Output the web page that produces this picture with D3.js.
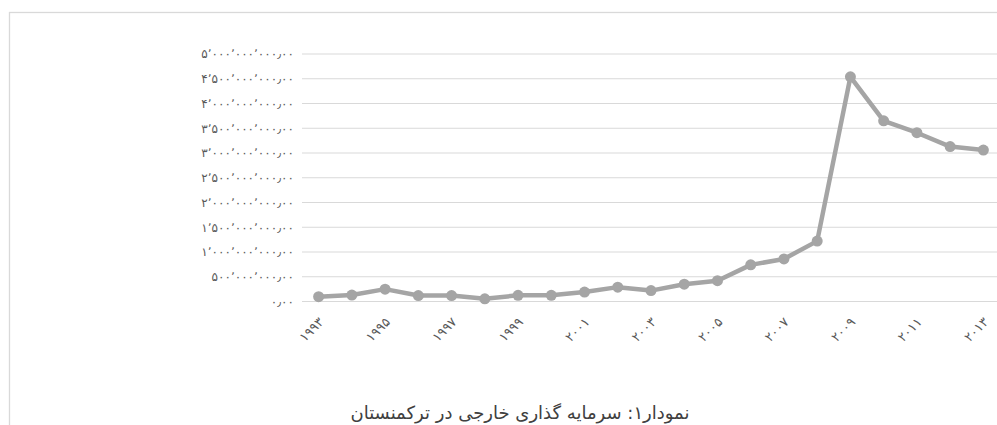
<!DOCTYPE html>
<html lang="fa">
<head>
<meta charset="utf-8">
<script src="https://cdn.jsdelivr.net/npm/d3@7"></script>
<style>
  html, body { margin: 0; padding: 0; background: #fff; }
  svg { display: block; }
  text { font-family: "DejaVu Sans", "Noto Sans", sans-serif; }
</style>
</head>
<body>
<svg id="chart" width="997" height="425"></svg>
<script>
// ---- data ----
const years = ["۱۹۹۳","۱۹۹۴","۱۹۹۵","۱۹۹۶","۱۹۹۷","۱۹۹۸","۱۹۹۹","۲۰۰۰","۲۰۰۱","۲۰۰۲","۲۰۰۳",
               "۲۰۰۴","۲۰۰۵","۲۰۰۶","۲۰۰۷","۲۰۰۸","۲۰۰۹","۲۰۱۰","۲۰۱۱","۲۰۱۲","۲۰۱۳"];
// foreign direct investment, US dollars
const investment = [97e6, 131e6, 250e6, 120e6, 120e6, 55e6, 125e6, 125e6, 190e6, 290e6, 220e6,
                    350e6, 420e6, 740e6, 860e6, 1220e6, 4540e6, 3650e6, 3410e6, 3130e6, 3060e6];
const yTickValues = [0, 5e8, 1e9, 1.5e9, 2e9, 2.5e9, 3e9, 3.5e9, 4e9, 4.5e9, 5e9];
const yTickLabels = ["۰٫۰۰","۵۰۰٬۰۰۰٬۰۰۰٫۰۰","۱٬۰۰۰٬۰۰۰٬۰۰۰٫۰۰","۱٬۵۰۰٬۰۰۰٬۰۰۰٫۰۰",
                     "۲٬۰۰۰٬۰۰۰٬۰۰۰٫۰۰","۲٬۵۰۰٬۰۰۰٬۰۰۰٫۰۰","۳٬۰۰۰٬۰۰۰٬۰۰۰٫۰۰",
                     "۳٬۵۰۰٬۰۰۰٬۰۰۰٫۰۰","۴٬۰۰۰٬۰۰۰٬۰۰۰٫۰۰","۴٬۵۰۰٬۰۰۰٬۰۰۰٫۰۰",
                     "۵٬۰۰۰٬۰۰۰٬۰۰۰٫۰۰"];
const caption = "نمودار۱: سرمایه گذاری خارجی در ترکمنستان";

// ---- layout ----
const svg = d3.select("#chart");
const plot = { left: 302, right: 1000, top: 54, bottom: 301.5 };

// chart frame
svg.append("rect")
  .attr("x", 9.5).attr("y", 12.5)
  .attr("width", 1000).attr("height", 430)
  .attr("fill", "none").attr("stroke", "#d9d9d9").attr("stroke-width", 1.3);

const x = d3.scalePoint().domain(years).range([plot.left, plot.right]).padding(0.5);
const y = d3.scaleLinear().domain([0, 5e9]).range([plot.bottom, plot.top]);

// gridlines
svg.append("g")
  .selectAll("line")
  .data(yTickValues)
  .join("line")
  .attr("x1", plot.left).attr("x2", plot.right)
  .attr("y1", d => y(d)).attr("y2", d => y(d))
  .attr("stroke", "#d9d9d9").attr("stroke-width", 1.2);

// y axis
const yAxis = svg.append("g")
  .attr("transform", `translate(${plot.left},0)`)
  .call(d3.axisLeft(y).tickValues(yTickValues)
        .tickFormat((d, i) => yTickLabels[i]).tickSize(0).tickPadding(8));
yAxis.select(".domain").remove();
yAxis.selectAll("text")
  .attr("fill", "#595959")
  .style("font-size", "12px")
  .style("letter-spacing", "5px");

// x axis
const xAxis = svg.append("g")
  .attr("transform", `translate(0,${plot.bottom})`)
  .call(d3.axisBottom(x).tickSize(0)
        .tickFormat((d, i) => (i % 2 === 0 ? d : "")));
xAxis.select(".domain").remove();
xAxis.selectAll("text")
  .attr("fill", "#595959")
  .style("font-size", "13px")
  .style("letter-spacing", "6px")
  .attr("text-anchor", "end")
  .attr("dy", "0.35em")
  .attr("transform", "translate(0,16) rotate(-45)");

// line
svg.append("path")
  .datum(investment)
  .attr("fill", "none")
  .attr("stroke", "#a5a5a5")
  .attr("stroke-width", 4.5)
  .attr("stroke-linejoin", "round")
  .attr("d", d3.line().x((d, i) => x(years[i])).y(d => y(d)));

// markers
svg.append("g")
  .selectAll("circle")
  .data(investment)
  .join("circle")
  .attr("cx", (d, i) => x(years[i]))
  .attr("cy", d => y(d))
  .attr("r", 5.5)
  .attr("fill", "#a5a5a5");

// caption
svg.append("text")
  .attr("x", 520).attr("y", 419)
  .attr("text-anchor", "middle")
  .attr("direction", "rtl")
  .attr("fill", "#404040")
  .style("font-size", "18px")
  .text(caption);
</script>
</body>
</html>
